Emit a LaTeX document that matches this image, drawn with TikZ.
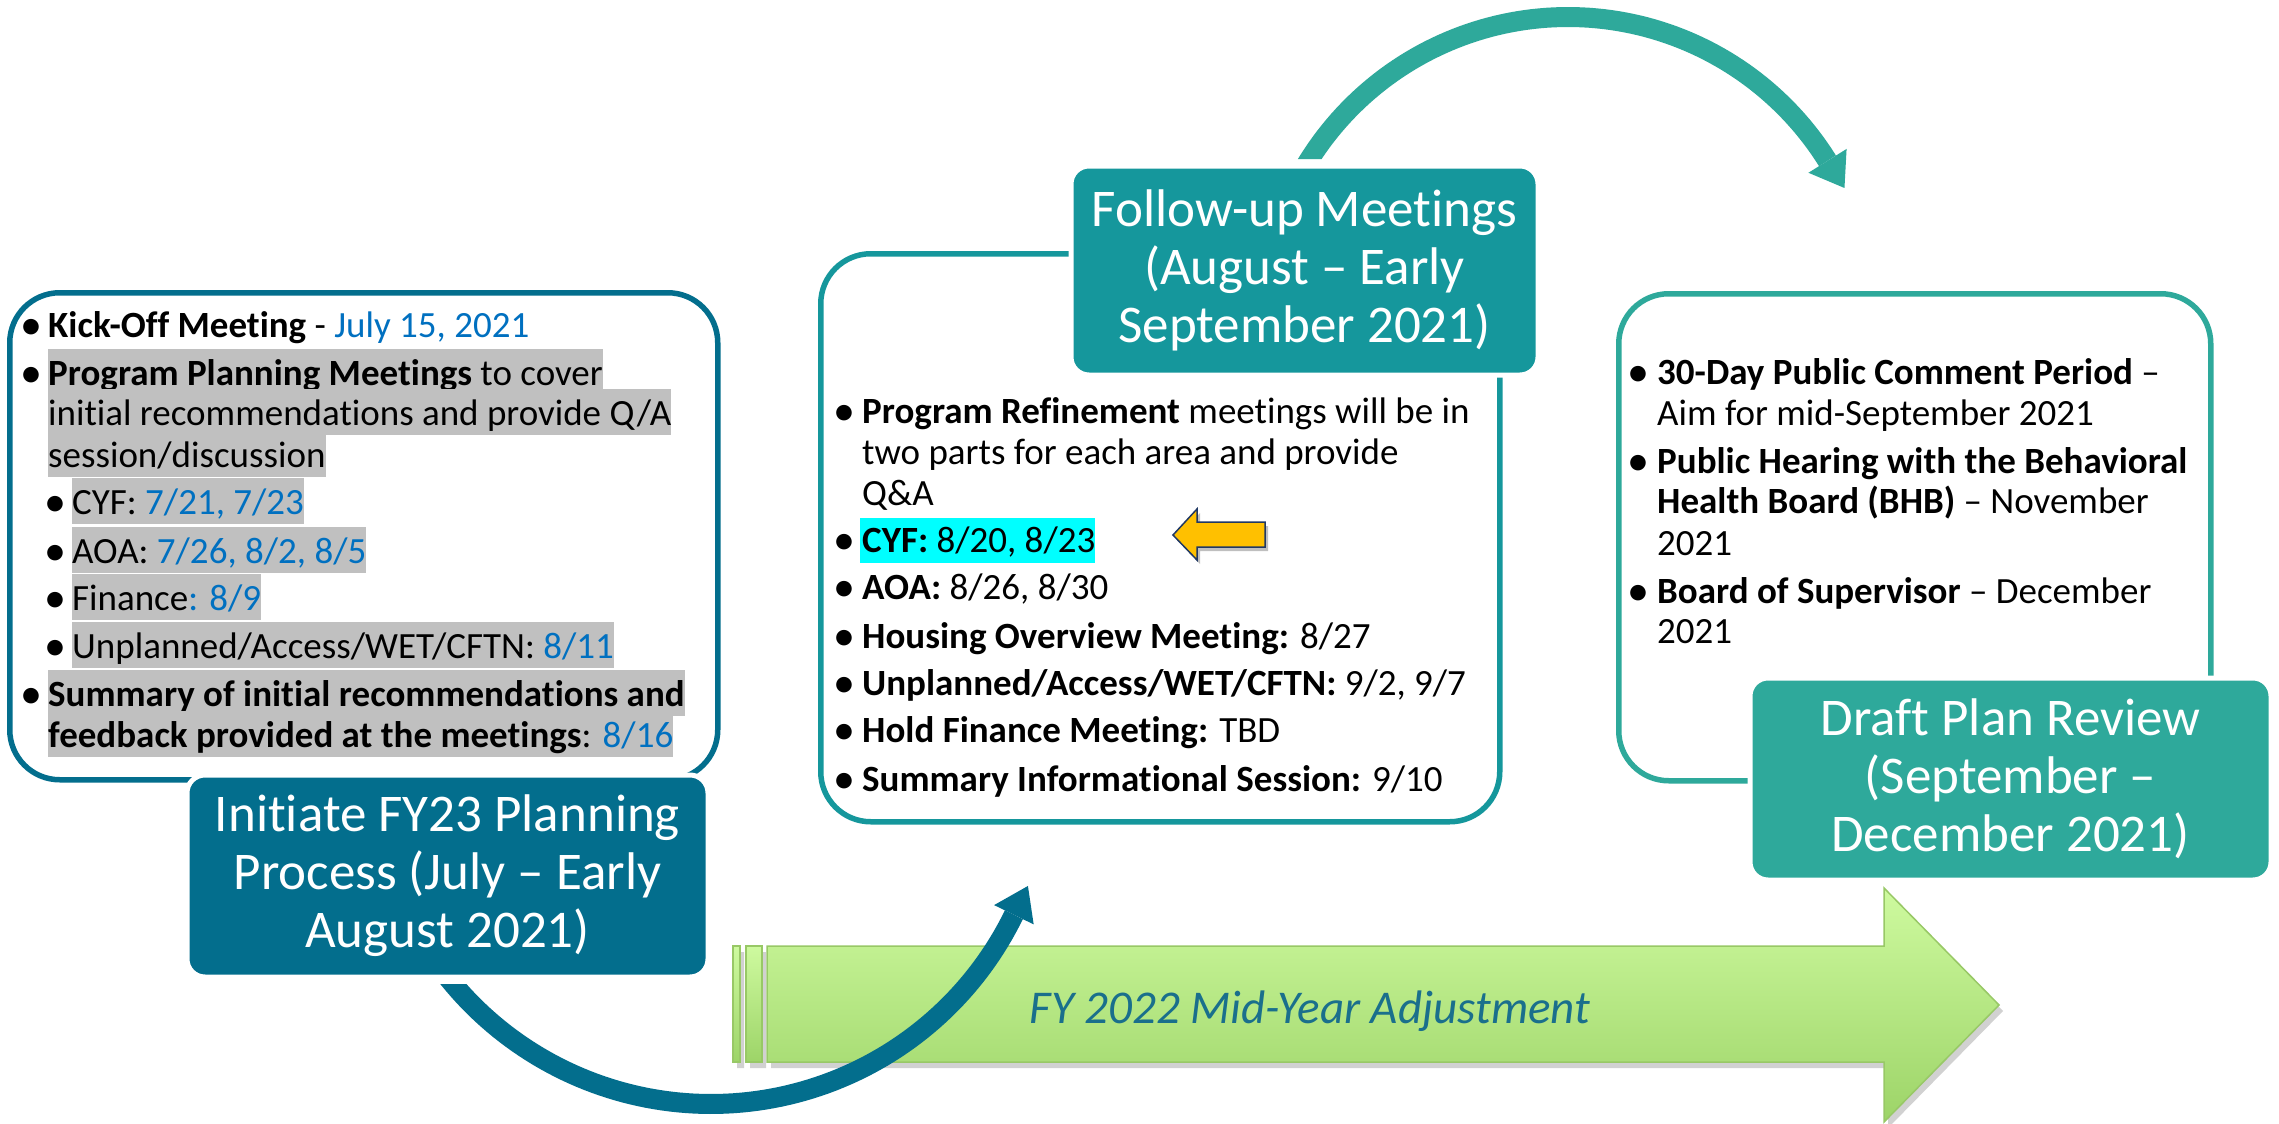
\documentclass[tikz,border=0pt]{standalone}
\usepackage{fontspec}
\setmainfont{Carlito}[Ligatures={TeX,NoCommon}]
\definecolor{dkblue}{HTML}{036E8D}
\definecolor{midteal}{HTML}{15979C}
\definecolor{ltteal}{HTML}{2EA99B}
\definecolor{datebl}{HTML}{0070C0}
\definecolor{hlgray}{HTML}{C0C0C0}
\definecolor{cyanhl}{HTML}{00FFFF}
\definecolor{grtop}{HTML}{CEFA9F}
\definecolor{grbot}{HTML}{9DD468}
\definecolor{grline}{HTML}{98C866}
\definecolor{fytext}{HTML}{1A6F8C}
\definecolor{yel}{HTML}{FFC000}
\definecolor{yelline}{HTML}{203864}
\newcommand\hlstrut{\rule[-10pt]{0pt}{46pt}}
\newcommand\cystrut{\rule[-11pt]{0pt}{45pt}}
\newcommand\bigbul{{\fontsize{44}{44}\selectfont\raisebox{-2.2pt}{•}}}
\begin{document}
\begin{tikzpicture}[x=1pt,y=-1pt,
  body/.style={font=\fontsize{37}{44}\selectfont, inner sep=0pt, anchor=base west},
  bul/.style={font=\fontsize{37}{44}\selectfont, inner sep=0pt, anchor=base},
  hlbox/.style={body, fill=hlgray},
  cybox/.style={body, fill=cyanhl},
  outlinebox/.style={draw, line width=5.5pt, rounded corners=50pt, inner sep=0pt, anchor=north west},
  titlebox/.style={rounded corners=18pt, draw=white, line width=5pt, text=white, align=center, inner sep=0pt, font=\fontsize{53}{58}\selectfont},
  arcband/.style={line width=20pt},
]
\useasboundingbox (0,0) rectangle (2279,1124);
\fill[white] (0,0) rectangle (2279,1124);

% ---------- green timeline arrow ----------
\fill[black, opacity=0.18, shift={(4,6)}] (733,946) rectangle (740,1062) (746,946) rectangle (762,1062)
  (767,946) -- (1884,946) -- (1884,888) -- (1999,1005) -- (1884,1122) -- (1884,1062) -- (767,1062) -- cycle;
\path[top color=grtop, bottom color=grbot, draw=grline, line width=1.5pt] (733,946) rectangle (740,1062);
\path[top color=grtop, bottom color=grbot, draw=grline, line width=1.5pt] (746,946) rectangle (762,1062);
\path[top color=grtop, bottom color=grbot, draw=grline, line width=1.5pt]
  (767,946) -- (1884,946) -- (1884,888) -- (1999,1005) -- (1884,1122) -- (1884,1062) -- (767,1062) -- cycle;
\node[font=\fontsize{47}{56}\selectfont\itshape, text=fytext, anchor=base, inner sep=0pt] (fy) at (1310,1023) {FY 2022 Mid-Year Adjustment};

% ---------- bottom curved arrow ----------
\begin{scope}
  \clip (0,984) rectangle (740,1124) (740,0) rectangle (2279,1124);
  \draw[dkblue, arcband] plot[domain=145:26, samples=90] ({711+337*cos(\x)}, {767+337*sin(\x)});
\end{scope}
\fill[dkblue] ({711+337*cos(26)+22*cos(26)}, {767+337*sin(26)+22*sin(26)})
  -- ({711+337*cos(26)+32*sin(26)}, {767+337*sin(26)-32*cos(26)})
  -- ({711+337*cos(26)-22*cos(26)}, {767+337*sin(26)-22*sin(26)}) -- cycle;

% ---------- top curved arrow ----------
\begin{scope}
  \clip (0,0) rectangle (1700,159) (1700,0) rectangle (2279,1124);
  \draw[ltteal, arcband] plot[domain=152:32, samples=90] ({1568+306*cos(\x)}, {323-306*sin(\x)});
\end{scope}
\fill[ltteal] ({1568+306*cos(32)+22.5*cos(32)}, {323-306*sin(32)-22.5*sin(32)})
  -- ({1568+306*cos(32)+32*sin(32)}, {323-306*sin(32)+32*cos(32)})
  -- ({1568+306*cos(32)-22.5*cos(32)}, {323-306*sin(32)+22.5*sin(32)}) -- cycle;

% ---------- outline boxes ----------
\node[outlinebox, draw=dkblue, minimum width=708pt, minimum height=487pt] (kbox) at (7,290) {};
\node[outlinebox, draw=midteal, minimum width=679pt, minimum height=568pt] (mbox) at (818,251) {};
\node[outlinebox, draw=ltteal, minimum width=592pt, minimum height=487pt] (rbox) at (1616,291) {};

% ---------- title boxes ----------
\node[titlebox, fill=dkblue, minimum width=521pt, minimum height=202pt] (init) at (447.5,876) {Initiate FY23 Planning\\Process (July – Early\\August 2021)};
\node[titlebox, fill=midteal, minimum width=467pt, minimum height=209pt] (follow) at (1304.5,270.5) {Follow-up Meetings\\(August – Early\\September 2021)};
\node[titlebox, fill=ltteal, minimum width=521pt, minimum height=202pt] (draft) at (2010.5,779) {Draft Plan Review\\(September –\\December 2021)};

% ---------- left box text ----------
\node[bul] (kb1) at (31,337) {\bigbul};
\node[body] (kt1) at (48,337) {\textbf{Kick-Off Meeting} - \textcolor{datebl}{July 15, 2021}};
\node[bul] (kb2) at (31,385) {\bigbul};
\node[hlbox] (kt2) at (48,385) {\hlstrut\textbf{Program Planning Meetings} to cover\hspace{9pt}};
\node[hlbox] (kt3) at (48,425) {\hlstrut initial recommendations and provide Q/A\hspace{9pt}};
\node[hlbox] (kt4) at (48,467) {\hlstrut session/discussion\hspace{3pt}};
\node[bul] (kb5) at (55,514) {\bigbul};
\node[hlbox] (kt5) at (72,514) {\hlstrut CYF: \textcolor{datebl}{7/21, 7/23}\hspace{3pt}};
\node[bul] (kb6) at (55,563) {\bigbul};
\node[hlbox] (kt6) at (72,563) {\hlstrut AOA: \textcolor{datebl}{7/26, 8/2, 8/5}\hspace{3pt}};
\node[bul] (kb7) at (55,610) {\bigbul};
\node[hlbox] (kt7) at (72,610) {\hlstrut Finance\textcolor{datebl}{: 8/9}\hspace{3pt}};
\node[bul] (kb8) at (55,658) {\bigbul};
\node[hlbox] (kt8) at (72,658) {\hlstrut Unplanned/Access/WET/CFTN: \textcolor{datebl}{8/11}\hspace{3pt}};
\node[bul] (kb9) at (31,706) {\bigbul};
\node[hlbox] (kt9) at (48,706) {\hlstrut\textbf{Summary of initial recommendations and}\hspace{6pt}};
\node[hlbox] (kt10) at (48,747) {\hlstrut\textbf{feedback provided at the meetings}: \textcolor{datebl}{8/16}\hspace{3pt}};

% ---------- middle box text ----------
\node[bul] (mb1) at (844,423) {\bigbul};
\node[body] (mt1) at (862,423) {\textbf{Program Refinement} meetings will be in};
\node[body] (mt2) at (862,464) {two parts for each area and provide};
\node[body] (mt3) at (862,505) {Q\&A};
\node[bul] (mb4) at (844,552) {\bigbul};
\node[cybox] (mt4) at (860,552) {\cystrut\hspace{2pt}\textbf{CYF:} 8/20, 8/23\hspace{2pt}};
\node[bul] (mb5) at (844,599) {\bigbul};
\node[body] (mt5) at (862,599) {\textbf{AOA:} 8/26, 8/30};
\node[bul] (mb6) at (844,648) {\bigbul};
\node[body] (mt6) at (862,648) {\textbf{Housing Overview Meeting:} 8/27};
\node[bul] (mb7) at (844,695) {\bigbul};
\node[body] (mt7) at (862,695) {\textbf{Unplanned/Access/WET/CFTN:} 9/2, 9/7};
\node[bul] (mb8) at (844,742) {\bigbul};
\node[body] (mt8) at (862,742) {\textbf{Hold Finance Meeting:} TBD};
\node[bul] (mb9) at (844,791) {\bigbul};
\node[body] (mt9) at (862,791) {\textbf{Summary Informational Session:} 9/10};

% ---------- yellow pointer ----------
\fill[black, opacity=0.25, shift={(3,4)}] (1173,535) -- (1197,509) -- (1197,522) -- (1265,522) -- (1265,547) -- (1197,547) -- (1197,560) -- cycle;
\draw[fill=yel, draw=yelline, line width=1.5pt, line join=miter] (1173,535) -- (1197,509) -- (1197,522) -- (1265,522) -- (1265,547) -- (1197,547) -- (1197,560) -- cycle;

% ---------- right box text ----------
\node[bul] (rb1) at (1638,384) {\bigbul};
\node[body] (rt1) at (1657,384) {\textbf{30-Day Public Comment Period} –};
\node[body] (rt2) at (1657,425) {Aim for mid-September 2021};
\node[bul] (rb3) at (1638,473) {\bigbul};
\node[body] (rt3) at (1657,473) {\textbf{Public Hearing with the Behavioral}};
\node[body] (rt4) at (1657,513) {\textbf{Health Board (BHB)} – November};
\node[body] (rt5) at (1657,555) {2021};
\node[bul] (rb6) at (1638,603) {\bigbul};
\node[body] (rt6) at (1657,603) {\textbf{Board of Supervisor} – December};
\node[body] (rt7) at (1657,643) {2021};
\end{tikzpicture}
\end{document}
